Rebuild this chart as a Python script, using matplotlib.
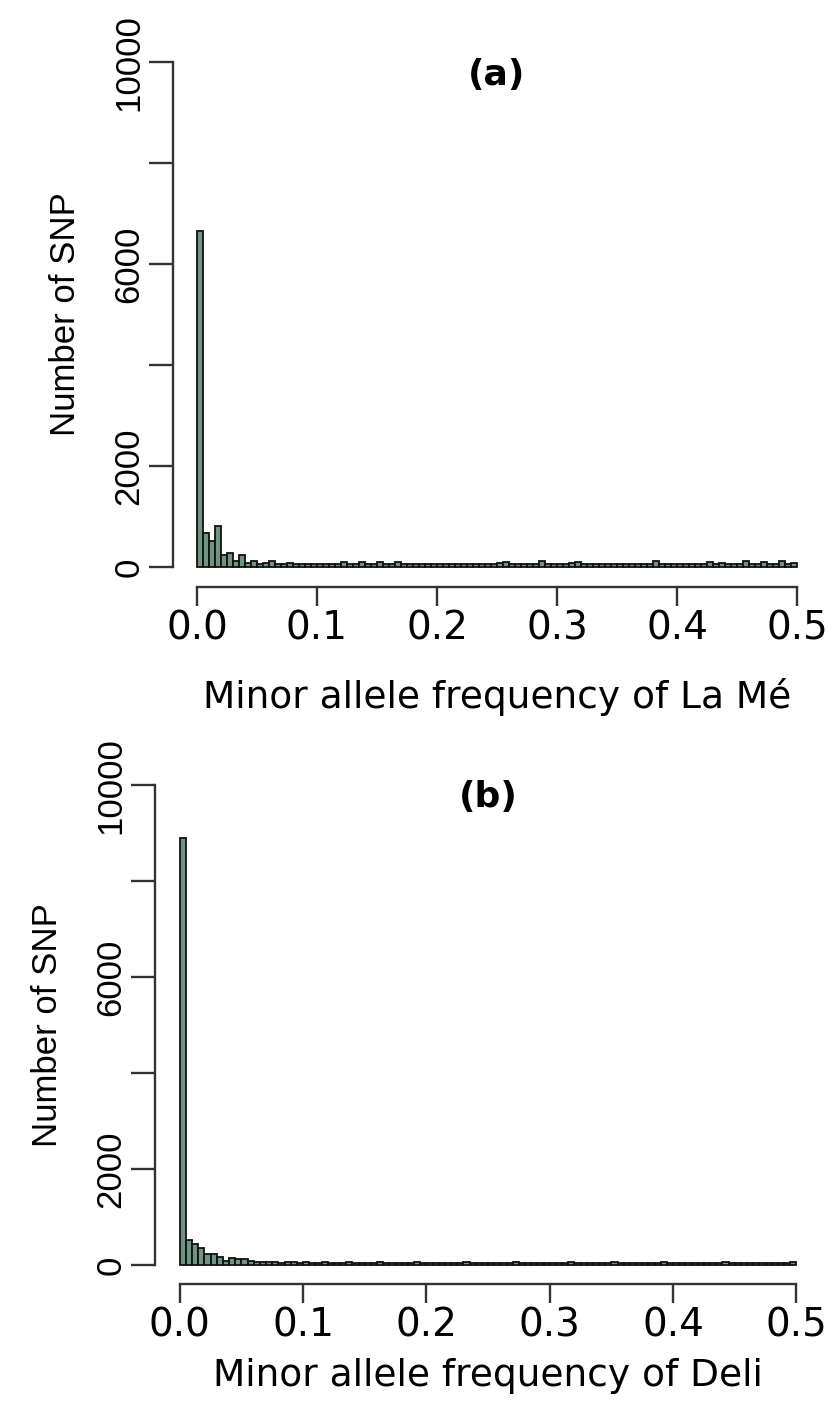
import numpy as np
import matplotlib
matplotlib.use("Agg")
import matplotlib.pyplot as plt

# histogram counts, bin width 0.005 from 0 to 0.5 (100 bins)
bin_width = 0.005
bin_left = np.arange(100) * bin_width

counts_lame = [
    6650, 680, 515, 810, 230, 280, 120, 230, 80, 110,
    60, 70, 110, 60, 55, 70, 60, 50, 65, 60,
    55, 60, 50, 65, 105, 60, 55, 100, 60, 55,
    100, 60, 50, 105, 55, 60, 50, 55, 60, 55,
    50, 60, 55, 50, 60, 55, 60, 50, 55, 60,
    70, 105, 60, 55, 60, 50, 60, 110, 55, 60,
    55, 60, 70, 105, 60, 55, 50, 60, 55, 60,
    50, 55, 60, 55, 60, 50, 115, 55, 60, 50,
    55, 60, 50, 55, 60, 105, 60, 75, 60, 55,
    60, 110, 60, 55, 105, 60, 55, 110, 60, 70,
]

counts_deli = [
    8900, 520, 440, 350, 230, 220, 170, 80, 140, 130,
    120, 80, 60, 55, 50, 60, 45, 50, 55, 45,
    50, 45, 40, 50, 45, 40, 45, 50, 40, 45,
    40, 45, 50, 40, 45, 40, 45, 40, 50, 45,
    40, 45, 40, 45, 40, 45, 50, 40, 45, 40,
    45, 40, 45, 40, 50, 45, 40, 45, 40, 45,
    40, 45, 40, 50, 40, 45, 40, 45, 40, 45,
    50, 40, 45, 40, 45, 40, 45, 40, 50, 45,
    40, 45, 40, 45, 40, 45, 40, 45, 50, 40,
    45, 40, 45, 40, 45, 40, 45, 40, 45, 50,
]

yticks = [0, 2000, 4000, 6000, 8000, 10000]
ytick_labels = ["0", "2000", "", "6000", "", "10000"]
xticks = [0.0, 0.1, 0.2, 0.3, 0.4, 0.5]
xtick_labels = ["0.0", "0.1", "0.2", "0.3", "0.4", "0.5"]

bar_color = "#6f9481"


def draw_hist(ax, counts, xlabel, tag, xpad):
    ax.bar(bin_left, counts, width=bin_width, align="edge",
           color=bar_color, edgecolor="#111111", linewidth=1.3)
    ax.set_xlim(-0.02, 0.52)
    ax.set_ylim(-400, 10400)
    for s in ["top", "right"]:
        ax.spines[s].set_visible(False)
    ax.spines["left"].set_bounds(0, 10000)
    ax.spines["bottom"].set_bounds(0, 0.5)
    ax.spines["left"].set_linewidth(1.7)
    ax.spines["bottom"].set_linewidth(1.7)
    ax.spines["left"].set_color("#333333")
    ax.spines["bottom"].set_color("#333333")

    ax.set_xticks(xticks)
    ax.set_xticklabels(xtick_labels, fontsize=28, family="DejaVu Sans")
    ax.set_yticks(yticks)
    ax.set_yticklabels(ytick_labels, fontsize=25, family="Liberation Sans",
                       rotation=90, va="center")
    ax.tick_params(axis="x", length=14, width=1.7, pad=2, color="#333333")
    ax.tick_params(axis="y", length=17, width=1.7, pad=3, color="#333333")

    ax.set_xlabel(xlabel, fontsize=27, family="DejaVu Sans", labelpad=xpad)
    ax.set_ylabel("Number of SNP", fontsize=25, family="Liberation Sans",
                  labelpad=22)
    ax.text(0.25, 9750, tag, ha="center", va="center",
            fontsize=26, fontweight="bold", family="DejaVu Sans")


fig = plt.figure(figsize=(8.34, 14.03), dpi=100)
ax_a = fig.add_axes([0.2074, 0.5816, 0.777, 0.3885])
ax_b = fig.add_axes([0.1859, 0.0848, 0.7986, 0.369])

draw_hist(ax_a, counts_lame, "Minor allele frequency of La Mé", "(a)", 22)
draw_hist(ax_b, counts_deli, "Minor allele frequency of Deli", "(b)", 10)

fig.savefig("out.png", dpi=100)
